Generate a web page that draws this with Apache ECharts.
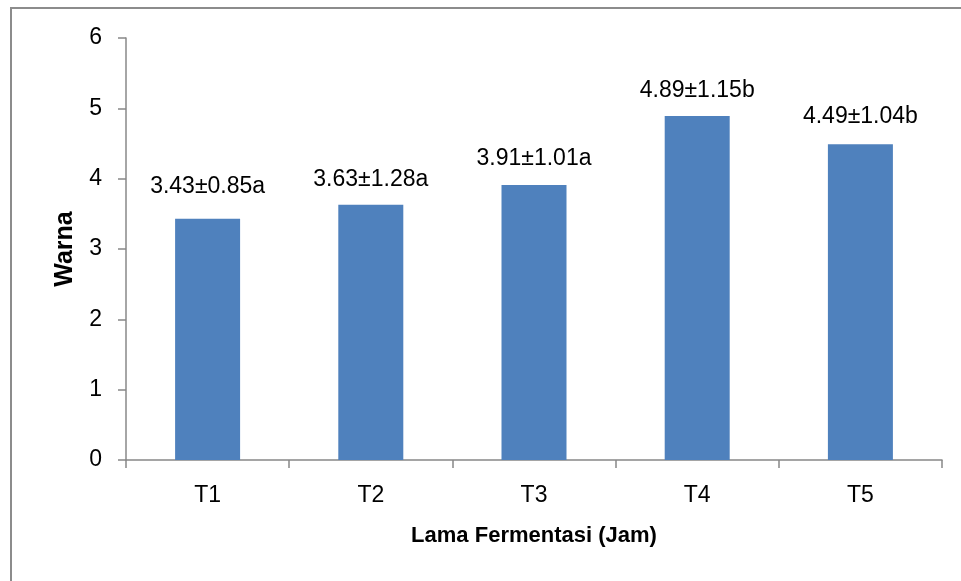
<!DOCTYPE html>
<html>
<head>
<meta charset="utf-8">
<script src="https://cdn.jsdelivr.net/npm/echarts@6/dist/echarts.min.js"></script>
<style>
html,body{margin:0;padding:0;background:#fff;}
#chart{width:961px;height:581px;}
</style>
</head>
<body>
<div id="chart"></div>
<script>
const categories = ['T1', 'T2', 'T3', 'T4', 'T5'];
const means = [3.43, 3.63, 3.91, 4.89, 4.49];
const sds = ['0.85', '1.28', '1.01', '1.15', '1.04'];
const letters = ['a', 'a', 'a', 'b', 'b'];
const labelGaps = [21, 14, 15, 14, 16];

const FONT = '"Liberation Sans", Arial, sans-serif';
const chart = echarts.init(document.getElementById('chart'), null, {renderer: 'canvas'});

chart.setOption({
  animation: false,
  backgroundColor: '#ffffff',
  graphic: [{
    type: 'rect',
    shape: {x: 11, y: 8, width: 1200, height: 1200},
    style: {fill: 'none', stroke: '#8c8c8c', lineWidth: 2},
    silent: true
  }],
  grid: {left: 126, right: 19, top: 38, bottom: 121, containLabel: false},
  xAxis: {
    type: 'category',
    data: categories,
    name: 'Lama Fermentasi (Jam)',
    nameLocation: 'middle',
    nameGap: 65,
    nameTextStyle: {fontFamily: FONT, fontWeight: 'bold', fontSize: 22, color: '#000'},
    axisLine: {lineStyle: {color: '#888888', width: 1.5}},
    axisTick: {show: true, length: 8, inside: false, alignWithLabel: false, lineStyle: {color: '#888888', width: 1.5}},
    axisLabel: {fontFamily: FONT, fontSize: 23, color: '#000', margin: 24},
    splitLine: {show: false}
  },
  yAxis: {
    type: 'value',
    min: 0,
    max: 6,
    interval: 1,
    name: 'Warna',
    nameLocation: 'middle',
    nameGap: 48,
    nameTextStyle: {fontFamily: FONT, fontWeight: 'bold', fontSize: 25, color: '#000'},
    axisLine: {show: true, lineStyle: {color: '#888888', width: 1.5}},
    axisTick: {show: true, length: 8, lineStyle: {color: '#888888', width: 1.5}},
    axisLabel: {fontFamily: FONT, fontSize: 23, color: '#000', margin: 24},
    splitLine: {show: false}
  },
  series: [{
    type: 'bar',
    data: means.map((v, i) => ({
      value: v,
      label: {distance: labelGaps[i]}
    })),
    barWidth: 65,
    itemStyle: {color: '#4F81BD'},
    label: {
      show: true,
      position: 'top',
      fontFamily: FONT,
      fontSize: 23,
      color: '#000',
      formatter: p => means[p.dataIndex].toFixed(2) + '±' + sds[p.dataIndex] + letters[p.dataIndex]
    }
  }]
});
</script>
</body>
</html>
